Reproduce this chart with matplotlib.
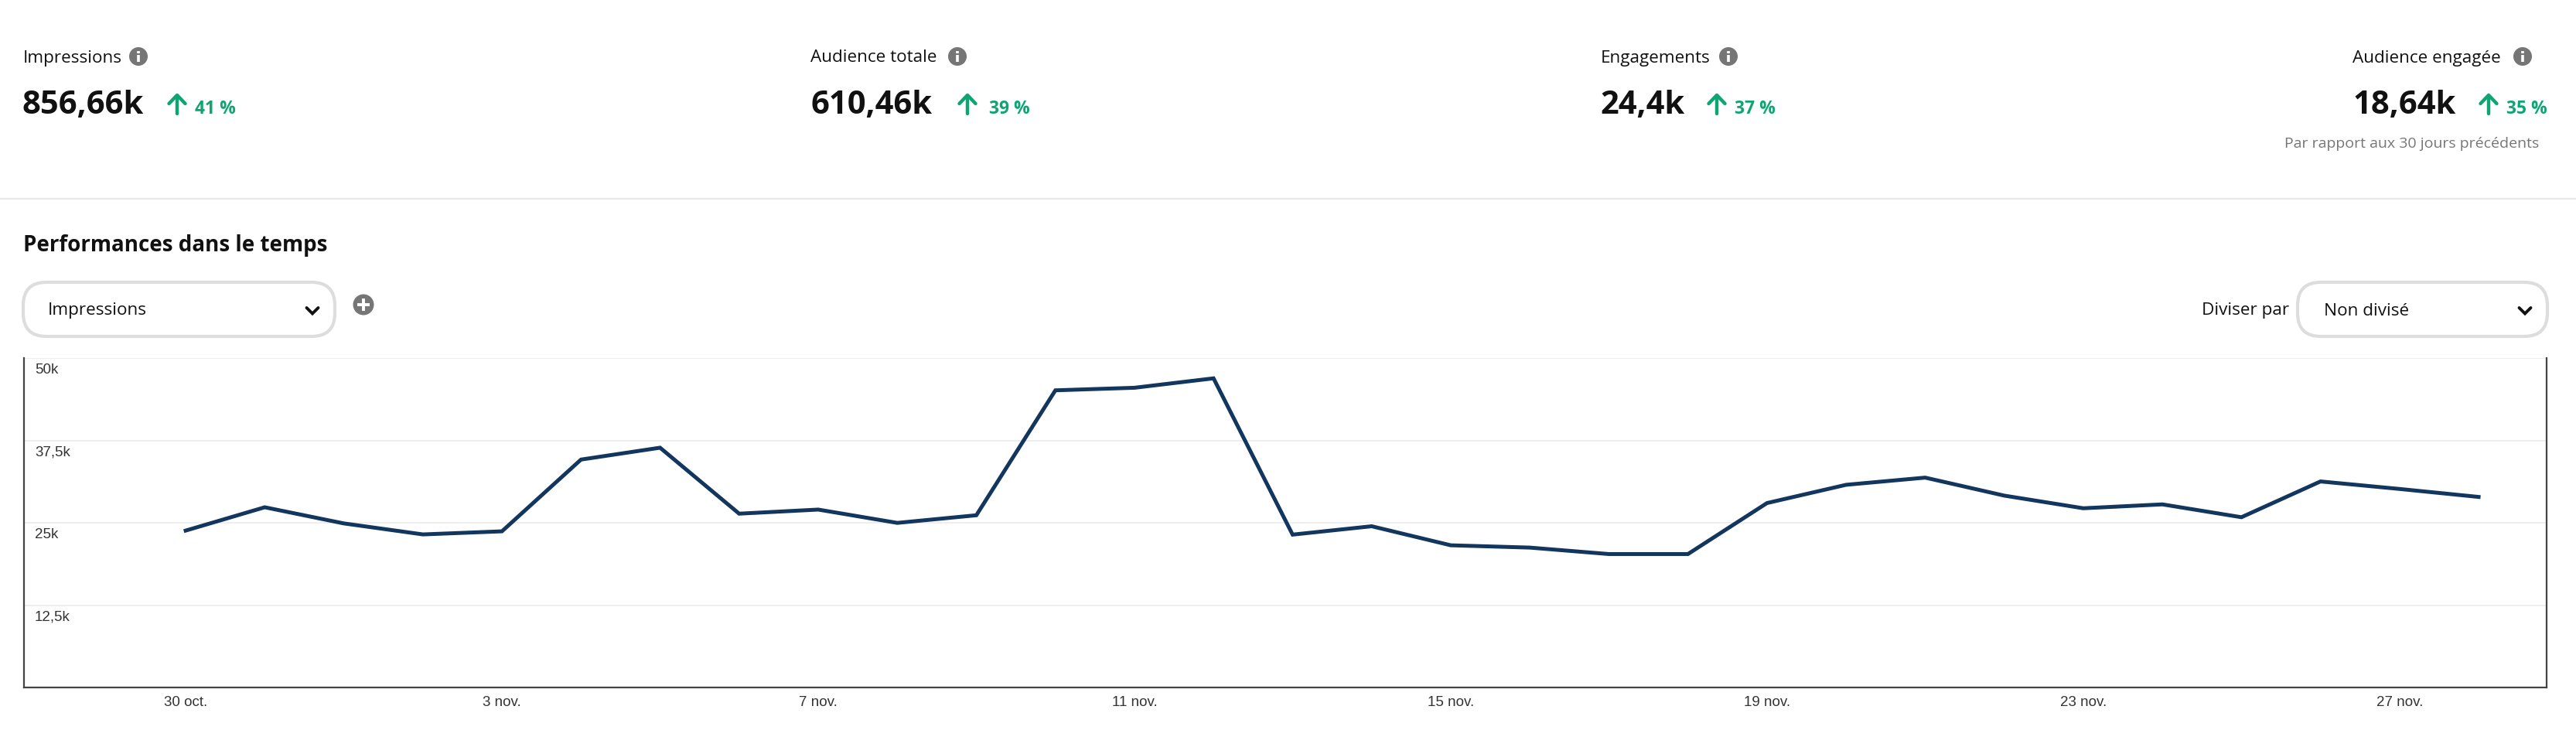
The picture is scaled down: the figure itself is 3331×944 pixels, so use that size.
#!/usr/bin/python3

import matplotlib
matplotlib.use('Agg')
import matplotlib.pyplot as plt
from matplotlib.patches import Circle, FancyBboxPatch

W, H = 3331, 944

kpi_names = ['Impressions', 'Audience totale', 'Engagements', 'Audience engagée']
kpi_values = ['856,66k', '610,46k', '24,4k', '18,64k']
kpi_deltas = ['41 %', '39 %', '37 %', '35 %']

y_ticks = [12500, 25000, 37500, 50000]
y_labels = ['12,5k', '25k', '37,5k', '50k']
date_ticks = [0, 4, 8, 12, 16, 20, 24, 28]
date_labels = ['30 oct.', '3 nov.', '7 nov.', '11 nov.', '15 nov.', '19 nov.', '23 nov.', '27 nov.']
impressions = [23810, 27350, 24900, 23230, 23700, 34590, 36390, 26380, 27000, 24980,
               26140, 45100, 45490, 46920, 23200, 24470, 21580, 21230, 20250, 20250,
               27990, 30760, 31850, 29120, 27200, 27790, 25840, 31270, 30130, 28920]

# pixel positions of the page furniture, one entry per kpi column
name_x = [30, 1048, 2070, 3042]
info_x = [179, 1238, 2235, 3262]
value_x = [29, 1048, 2069, 3043]
arrow_x = [229, 1251, 2220, 3218]
delta_x = [252, 1279, 2243, 3241]

INK = '#111111'
GREEN = '#0fa573'
GRAY = '#767676'
UI_FONT = ['Open Sans', 'DejaVu Sans']
CHART_FONT = 'Liberation Sans'

fig = plt.figure(figsize=(W / 100, H / 100), dpi=100, facecolor='white')

# overlay in image pixels for the dashboard chrome
ui = fig.add_axes([0, 0, 1, 1], frameon=False)
ui.set_xlim(0, W), ui.set_xticks([])
ui.set_ylim(H, 0), ui.set_yticks([])


def label(x, y, s, size=16.2, weight='normal', color=INK, va='center'):
    ui.text(x, y, s, fontsize=size, fontweight=weight, color=color, va=va, ha='left', family=UI_FONT)


def info_icon(x, y):
    ui.add_patch(Circle((x, y), 12, facecolor=GRAY, edgecolor='none'))
    ui.plot([x, x], [y - 2, y + 7], color='white', lw=2.6, solid_capstyle='butt')
    ui.plot([x, x], [y - 7.5, y - 4.5], color='white', lw=2.6, solid_capstyle='butt')


def up_arrow(x, top=123, bottom=147):
    ui.plot([x, x], [top + 2, bottom], color=GREEN, lw=3.2, solid_capstyle='round')
    ui.plot([x - 10.5, x, x + 10.5], [top + 11, top, top + 11], color=GREEN, lw=3.2,
            solid_capstyle='round', solid_joinstyle='round')


def dropdown(x0, x1, chevron_x):
    ui.add_patch(FancyBboxPatch((x0 + 30, 365 + 30), x1 - x0 - 60, 10,
                                boxstyle='round,pad=30,rounding_size=30',
                                facecolor='white', edgecolor='#dddddd', lw=3))
    ui.plot([chevron_x - 7.5, chevron_x, chevron_x + 7.5], [398, 405.5, 398], color=INK, lw=2.8,
            solid_capstyle='round', solid_joinstyle='miter')


for i in range(4):
    label(name_x[i], 75, kpi_names[i])
    info_icon(info_x[i], 73)
    label(value_x[i], 147, kpi_values[i], size=30, weight='bold', va='baseline')
    up_arrow(arrow_x[i])
    label(delta_x[i], 147, kpi_deltas[i], size=16.5, weight='bold', color=GREEN, va='baseline')

label(2954, 186, 'Par rapport aux 30 jours précédents', size=14, color=GRAY)
ui.plot([0, W], [257, 257], color='#e9e9e9', lw=1.6)

label(30, 317, 'Performances dans le temps', size=20, weight='bold')
dropdown(30, 433, 404)
label(62, 402, 'Impressions')
ui.add_patch(Circle((470, 394), 13.5, facecolor=GRAY, edgecolor='none'))
ui.plot([462, 478], [394, 394], color='white', lw=2.8, solid_capstyle='butt')
ui.plot([470, 470], [386, 402], color='white', lw=2.8, solid_capstyle='butt')
label(2847, 402, 'Diviser par')
dropdown(2971, 3294, 3265)
label(3005, 402, 'Non divisé')

# the chart itself
left, right, top, bottom = 31, 3293, 463, 889
ax = fig.add_axes([left / W, 1 - bottom / H, (right - left) / W, (bottom - top) / H])
ax.patch.set_alpha(0)
ax.plot(range(len(impressions)), impressions, color='#12365e', lw=3.6, solid_joinstyle='miter')
ax.set_xlim(-2.045, 29.86)
ax.set_ylim(0, 50000)
ax.spines['top'].set_visible(False)
for side in ['left', 'right', 'bottom']:
    ax.spines[side].set_color('#444444')
    ax.spines[side].set_linewidth(1.6)
ax.set_xticks(date_ticks)
ax.set_xticklabels(date_labels, fontsize=13.5, color='#333333', family=CHART_FONT)
ax.tick_params(axis='x', length=0, pad=8)
ax.set_yticks(y_ticks)
ax.set_yticklabels([])
ax.tick_params(axis='y', length=0)
ax.grid(axis='y', color='#eeeeee', lw=1.4)
ax.set_axisbelow(True)
for tick, text in zip(y_ticks, y_labels):
    ax.annotate(text, xy=(0, tick), xycoords=('axes fraction', 'data'), xytext=(10, -5),
                textcoords='offset points', va='top', ha='left', fontsize=13.5,
                color='#333333', family=CHART_FONT)

fig.savefig('out.png', dpi=100)
